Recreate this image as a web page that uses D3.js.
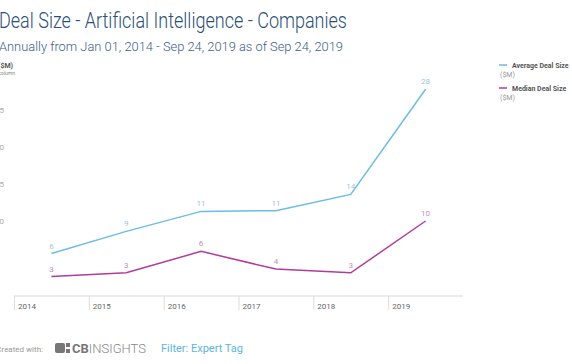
<!DOCTYPE html>
<html>
<head>
<meta charset="utf-8">
<script src="https://cdn.jsdelivr.net/npm/d3@7"></script>
<style>
	body { margin: 0; background: #fff; }
	svg { display: block; font-family: Roboto, "Open Sans", sans-serif; }
</style>
</head>
<body>
<svg id="chart" width="572" height="364"></svg>
<script>
var years = ["2014", "2015", "2016", "2017", "2018", "2019"];
var averageDeal = [5.6, 8.6, 11.3, 11.4, 13.6, 27.8];
var medianDeal = [2.5, 3.0, 5.9, 3.5, 3.0, 10.0];
var yTicks = [10, 15, 20, 25];

var svg = d3.select("#chart");

var x = d3.scaleBand()
	.domain(years)
	.range([14, 463]);

var y = d3.scaleLinear()
	.domain([0, 30])
	.range([295, 73]);

/* titles */
svg.append("text")
	.attr("x", -1)
	.attr("y", 28)
	.attr("font-size", 22)
	.attr("font-weight", 300)
	.attr("fill", "#2b4f78")
	.attr("textLength", 348)
	.attr("lengthAdjust", "spacingAndGlyphs")
	.text("Deal Size - Artificial Intelligence - Companies");

svg.append("text")
	.attr("x", -1)
	.attr("y", 51)
	.attr("font-size", 13)
	.attr("font-weight", 300)
	.attr("fill", "#3c6088")
	.attr("textLength", 344)
	.attr("lengthAdjust", "spacingAndGlyphs")
	.text("Annually from Jan 01, 2014 - Sep 24, 2019 as of Sep 24, 2019");

svg.append("text")
	.attr("x", 13)
	.attr("y", 68)
	.attr("text-anchor", "end")
	.attr("font-size", 7)
	.attr("font-weight", "bold")
	.attr("fill", "#555")
	.text("Deal Size ($M)");

svg.append("text")
	.attr("x", 15)
	.attr("y", 75)
	.attr("text-anchor", "end")
	.attr("font-size", 5)
	.attr("fill", "#888")
	.text("Line / column");

/* y axis labels (clipped at left edge) */
svg.selectAll(".ytick")
	.data(yTicks)
	.enter()
	.append("text")
	.attr("class", "ytick")
	.attr("x", 4)
	.attr("y", function(d) { return y(d) + 3; })
	.attr("text-anchor", "end")
	.attr("font-size", 8)
	.attr("fill", "#aaa")
	.text(function(d) { return d; });

/* x axis */
var xAxis = svg.append("g");

xAxis.append("line")
	.attr("x1", 14)
	.attr("x2", 463)
	.attr("y1", 296)
	.attr("y2", 296)
	.attr("stroke", "#e6e6e6")
	.attr("stroke-width", 1.5);

xAxis.selectAll(".xtick")
	.data(years)
	.enter()
	.append("line")
	.attr("x1", function(d) { return x(d) + 0.5; })
	.attr("x2", function(d) { return x(d) + 0.5; })
	.attr("y1", 296)
	.attr("y2", 310)
	.attr("stroke", "#ddd");

xAxis.selectAll(".xlabel")
	.data(years)
	.enter()
	.append("text")
	.attr("x", function(d) { return x(d) + 4; })
	.attr("y", 309)
	.attr("font-size", 8)
	.attr("fill", "#666")
	.text(function(d) { return d; });

/* lines */
var line = d3.line()
	.x(function(d, i) { return x(years[i]) + x.bandwidth() / 2; })
	.y(function(d) { return y(d); });

var series = [
	{ values: averageDeal, color: "#6cbde0", label: "#9fc5d8" },
	{ values: medianDeal, color: "#b23c9c", label: "#c88cba" }
];

series.forEach(function(s) {
	svg.append("path")
		.datum(s.values)
		.attr("d", line)
		.attr("fill", "none")
		.attr("stroke", s.color)
		.attr("stroke-width", 1.5);

	svg.selectAll(null)
		.data(s.values)
		.enter()
		.append("text")
		.attr("x", function(d, i) { return x(years[i]) + x.bandwidth() / 2; })
		.attr("y", function(d) { return y(d) - 5; })
		.attr("text-anchor", "middle")
		.attr("font-size", 8)
		.attr("fill", s.label)
		.text(function(d) { return Math.round(d); });
});

/* legend */
var legendNames = ["Average Deal Size", "Median Deal Size"];
var legend = svg.selectAll(".legend")
	.data(legendNames)
	.enter()
	.append("g")
	.attr("transform", function(d, i) { return "translate(499," + (65 + i * 23) + ")"; });

legend.append("line")
	.attr("x1", 0)
	.attr("x2", 8)
	.attr("y1", 0)
	.attr("y2", 0)
	.attr("stroke", function(d, i) { return series[i].color; })
	.attr("stroke-width", 1.5);

legend.append("text")
	.attr("x", 13)
	.attr("y", 2.5)
	.attr("font-size", 7)
	.attr("font-weight", "bold")
	.attr("fill", "#555")
	.text(function(d) { return d; });

legend.append("text")
	.attr("x", 1)
	.attr("y", 12)
	.attr("font-size", 7)
	.attr("fill", "#999")
	.text("($M)");

/* footer */
svg.append("text")
	.attr("x", 43)
	.attr("y", 352)
	.attr("text-anchor", "end")
	.attr("font-size", 8)
	.attr("fill", "#999")
	.text("Created with:");

var logo = svg.append("g").attr("transform", "translate(55,343)");
logo.append("rect").attr("x", 0).attr("y", 0).attr("width", 10).attr("height", 10).attr("rx", 2).attr("fill", "#777");
logo.append("rect").attr("x", 11).attr("y", 0).attr("width", 4).attr("height", 4).attr("fill", "#777");
logo.append("rect").attr("x", 11).attr("y", 6).attr("width", 4).attr("height", 4).attr("fill", "#777");
logo.append("text")
	.attr("x", 17)
	.attr("y", 10)
	.attr("font-size", 13)
	.attr("fill", "#888")
	.html('<tspan font-weight="bold" fill="#777">CB</tspan><tspan font-weight="300">INSIGHTS</tspan>');

svg.append("text")
	.attr("x", 161)
	.attr("y", 352)
	.attr("font-size", 11)
	.attr("fill", "#5db5de")
	.text("Filter: Expert Tag");
</script>
</body>
</html>
